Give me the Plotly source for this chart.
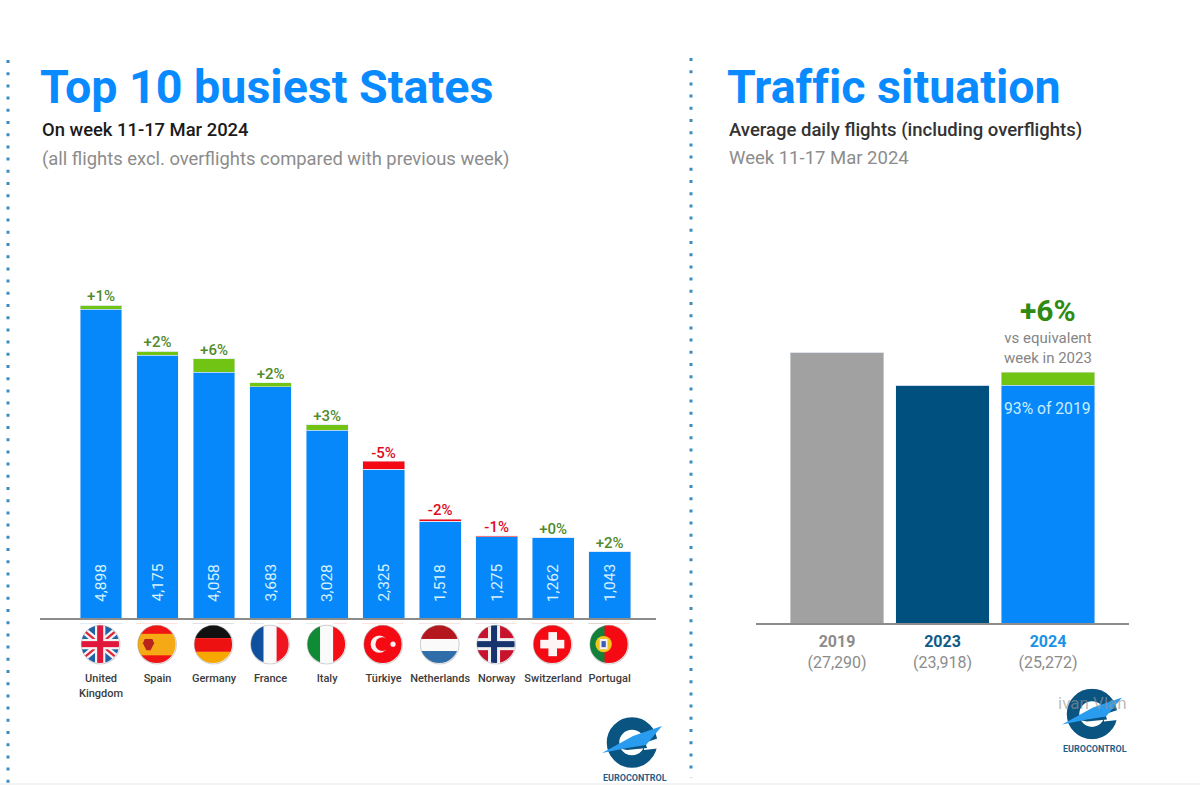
import base64
import plotly.graph_objects as go

W, H = 1200, 785
FONT = "Roboto"
BLUE = "#0688fb"
GREEN = "#72c414"
RED = "#f50a14"
DARK = "#00507f"
GREY = "#a1a1a1"

countries = ["United<br>Kingdom", "Spain", "Germany", "France", "Italy",
             "Türkiye", "Netherlands", "Norway", "Switzerland", "Portugal"]
flights = [4898, 4175, 4058, 3683, 3028, 2325, 1518, 1275, 1262, 1043]
flight_labels = ["4,898", "4,175", "4,058", "3,683", "3,028",
                 "2,325", "1,518", "1,275", "1,262", "1,043"]
pct_labels = ["+1%", "+2%", "+6%", "+2%", "+3%", "-5%", "-2%", "-1%", "+0%", "+2%"]
# flights gained on the previous week (green) and lost since it (red)
gain = [70, 65, 215, 65, 90, 0, 0, 0, 0, 0]
loss = [0, 0, 0, 0, 0, 125, 30, 15, 0, 0]

years = ["2019", "2023", "2024"]
year_counts = ["(27,290)", "(23,918)", "(25,272)"]
daily = [27290, 23918, 25272]
year_colors = ["#8c8c8c", "#0f5a86", "#1a93e6"]


def svg_uri(body, w=100, h=100):
    svg = (f'<svg xmlns="http://www.w3.org/2000/svg" viewBox="0 0 {w} {h}" '
           f'width="{w}" height="{h}">{body}</svg>')
    return "data:image/svg+xml;base64," + base64.b64encode(svg.encode()).decode()


def rect(x, y, w, h, c):
    return f'<rect x="{x}" y="{y}" width="{w}" height="{h}" fill="{c}"/>'


def round_flag(content):
    # white ring trims the square flag to a disc; a faint outline gives the soft shadow
    return svg_uri(
        content
        + '<circle cx="48" cy="48" r="70" fill="none" stroke="#fff" stroke-width="52"/>'
        + '<circle cx="49" cy="49" r="45" fill="none" stroke="#8f8f8f" '
          'stroke-width="2.5" opacity="0.4"/>'
        + rect(0, 96, 100, 4, "#fff"))


flag_uk = (rect(0, 0, 100, 96, "#1f62a8")
           + '<path d="M0 8 L96 88 M96 8 L0 88" stroke="#f3f3f3" stroke-width="16"/>'
           + '<path d="M0 8 L96 88 M96 8 L0 88" stroke="#e0243c" stroke-width="5"/>'
           + rect(36, 0, 24, 96, "#f3f3f3") + rect(0, 36, 96, 24, "#f3f3f3")
           + rect(41, 0, 14, 96, "#e0163a") + rect(0, 41, 96, 14, "#e0163a"))
flag_es = (rect(0, 0, 96, 96, "#f01414") + rect(0, 24, 96, 50, "#f5a915")
           + '<path d="M20 36 H38 L42 46 L34 62 H24 L16 46 Z" fill="#b8231c"/>')
flag_de = (rect(0, 0, 96, 34, "#111") + rect(0, 34, 96, 32, "#ee1111")
           + rect(0, 66, 96, 30, "#f7a800"))
flag_fr = (rect(0, 0, 34, 96, "#0e4f9e") + rect(34, 0, 30, 96, "#fafafa")
           + rect(64, 0, 32, 96, "#f01420"))
flag_it = (rect(0, 0, 34, 96, "#0f8a35") + rect(34, 0, 30, 96, "#fafafa")
           + rect(64, 0, 32, 96, "#f50f14"))
flag_tr = (rect(0, 0, 96, 96, "#f50a14")
           + '<circle cx="40" cy="48" r="20" fill="#fdf2f2"/>'
           + '<circle cx="47" cy="48" r="16" fill="#f50a14"/>'
           + '<circle cx="72" cy="48" r="6" fill="#fdf2f2"/>')
flag_nl = (rect(0, 0, 96, 36, "#b5171e") + rect(0, 36, 96, 28, "#fafafa")
           + rect(0, 64, 96, 32, "#2f6ea8"))
flag_no = (rect(0, 0, 96, 96, "#c8122e") + rect(30, 0, 28, 96, "#f2f2f2")
           + rect(0, 34, 96, 28, "#f2f2f2") + rect(37, 0, 14, 96, "#17346e")
           + rect(0, 41, 96, 14, "#17346e"))
flag_ch = (rect(0, 0, 96, 96, "#f50a14") + rect(39, 20, 20, 56, "#fdf5f5")
           + rect(20, 38, 56, 20, "#fdf5f5"))
flag_pt = (rect(0, 0, 96, 96, "#f50a14") + rect(0, 0, 38, 96, "#12803a")
           + '<circle cx="36" cy="48" r="19" fill="#f2c51e"/>'
           + rect(27, 36, 18, 24, "#f4f0f0") + rect(31, 41, 10, 14, "#3b5fb0"))
flags = [round_flag(f) for f in (flag_uk, flag_es, flag_de, flag_fr, flag_it,
                                 flag_tr, flag_nl, flag_no, flag_ch, flag_pt)]

logo = svg_uri(
    '<circle cx="60" cy="51" r="38" fill="none" stroke="#0a5482" stroke-width="25"/>'
    '<path d="M84 52 L120 40 L120 62 L84 66 Z" fill="#fff"/>'
    '<path d="M30 62 L84 42 L90 62 L50 66 Z" fill="#0a5482"/>'
    '<path d="M46 72 L80 66 A26 26 0 0 1 46 72 Z" fill="#fff"/>'
    '<path d="M0 72 L62 38 L120 18 L88 56 L50 62 Z" fill="#2a9cef"/>',
    120, 102)

fig = go.Figure()

# Left chart: the stack top is the week's figure or, for a fall, the previous week's
base = [v - g for v, g in zip(flights, gain)]
fig.add_bar(x=list(range(10)), y=base, marker_color=BLUE, width=0.74, xaxis="x", yaxis="y",
            hoverinfo="skip")
fig.add_bar(x=list(range(10)), y=gain, marker_color=GREEN, width=0.74, xaxis="x", yaxis="y",
            hoverinfo="skip")
fig.add_bar(x=list(range(10)), y=loss, marker_color=RED, width=0.74, xaxis="x", yaxis="y",
            hoverinfo="skip")
tops = [b + g + l for b, g, l in zip(base, gain, loss)]
fig.add_scatter(x=list(range(10)), y=tops, mode="text", text=pct_labels,
                textposition="top center", xaxis="x", yaxis="y", hoverinfo="skip",
                textfont=dict(family=FONT, size=15, weight=500,
                              color=["#dc0a1e" if p.startswith("-") else "#4f8a2c"
                                     for p in pct_labels]))

# Right chart
fig.add_bar(x=years, y=[daily[0], daily[1], daily[1]],
            marker_color=[GREY, DARK, BLUE], width=0.89, xaxis="x2", yaxis="y2",
            hoverinfo="skip")
fig.add_bar(x=years, y=[0, 0, daily[2] - daily[1]], marker_color=GREEN, width=0.89,
            xaxis="x2", yaxis="y2", hoverinfo="skip")


def paper_text(x, y, text, size, color, weight=400, anchor="left"):
    fig.add_annotation(xref="paper", yref="paper", x=x / W, y=1 - y / H, text=text,
                       showarrow=False, xanchor=anchor, yanchor="middle",
                       font=dict(family=FONT, size=size, color=color, weight=weight))


paper_text(38, 87, "Top 10 busiest States", 46.6, "#0a8aff", 700)
paper_text(40, 130, "On week 11-17 Mar 2024", 18.4, "#1a1a1a", 500)
paper_text(40, 159, "(all flights excl. overflights compared with previous week)", 18.4, "#8c8c8c")
paper_text(725, 87, "Traf\u200cf\u200cic situation", 46.6, "#0a8aff", 700)
paper_text(727, 130, "Average daily flights (including overflights)", 18.5, "#333333", 500)
paper_text(727, 158, "Week 11-17 Mar 2024", 18.5, "#8c8c8c")

for i, label in enumerate(flight_labels):
    fig.add_annotation(x=i, y=0, xref="x", yref="y", yshift=35, text=label, textangle=-90,
                       showarrow=False, font=dict(family=FONT, size=15.5, color="#d6f2ff"))

fig.add_annotation(x=2, y=daily[2], xref="x2", yref="y2", yshift=62, text="<b>+6%</b>",
                   showarrow=False, font=dict(family=FONT, size=30, color="#2f8a12"))
fig.add_annotation(x=2, y=daily[2], xref="x2", yref="y2", yshift=24,
                   text="vs equivalent<br>week in 2023", showarrow=False,
                   font=dict(family=FONT, size=15, color="#858585"))
fig.add_annotation(x=2, y=daily[1], xref="x2", yref="y2", yshift=-23, text="93% of 2019",
                   showarrow=False, font=dict(family=FONT, size=15.7, color="#c8eeff"))

paper_text(635, 778, "EUROCONTROL", 9, "#1f5f8a", 700, "center")
paper_text(1095, 749, "EUROCONTROL", 9, "#1f5f8a", 700, "center")

images = [dict(source=flags[i], xref="x", yref="paper", x=i, y=1 - 645 / H, sizex=0.82,
               sizey=43 / H, xanchor="center", yanchor="middle", layer="above",
               sizing="contain") for i in range(10)]
for cx, cy in [(632, 742.5), (1092, 714)]:
    images.append(dict(source=logo, xref="paper", yref="paper", x=cx / W, y=1 - cy / H,
                       sizex=60 / W, sizey=51 / H, xanchor="center", yanchor="middle",
                       layer="above", sizing="stretch"))

paper_text(1092, 703, "ivan Vlan", 17, "rgba(150,150,150,0.65)", 400, "center")

sep = dict(type="line", xref="paper", yref="paper",
           line=dict(color="#3d8cc0", width=3, dash="3px,9.2px"))
shapes = [dict(sep, x0=8 / W, x1=8 / W, y0=1 - 60 / H, y1=0),
          dict(sep, x0=691 / W, x1=691 / W, y0=1 - 58 / H, y1=1 - 778 / H),
          dict(type="rect", xref="paper", yref="paper", x0=0, x1=1, y0=0, y1=2 / H,
               fillcolor="#f3f3f3", line=dict(width=0))]

fig.update_layout(
    width=W, height=H, margin=dict(l=0, r=0, t=0, b=0), paper_bgcolor="#ffffff",
    plot_bgcolor="#ffffff", barmode="stack", showlegend=False, images=images, shapes=shapes,
    font=dict(family=FONT),
    xaxis=dict(domain=[40 / W, 656 / W], range=[-1.08, 9.82], showgrid=False, zeroline=False,
               tickmode="array", tickvals=list(range(10)), ticktext=countries, ticks="",
               ticklabelstandoff=49, tickangle=0, showline=True, linecolor="#8c8c8c", linewidth=2,
               tickfont=dict(family=FONT, size=11, color="#3c3c3c", weight=500), anchor="y"),
    yaxis=dict(domain=[1 - 618 / H, 1 - 250 / H], range=[0, 368 / 0.0639], visible=False,
               anchor="x"),
    xaxis2=dict(domain=[756 / W, 1129 / W], range=[-0.768, 2.768], showgrid=False, zeroline=False,
                type="category", categoryorder="array", categoryarray=years,
                tickmode="array", tickvals=years,
                ticktext=[f'<span style="color:{c}"><b>{y}</b></span><br>{n}'
                          for c, y, n in zip(year_colors, years, year_counts)],
                ticks="", ticklabelstandoff=3, showline=True, linecolor="#8c8c8c", linewidth=2,
                tickfont=dict(family=FONT, size=16, color="#8c8c8c"), anchor="y2"),
    yaxis2=dict(domain=[1 - 623 / H, 1 - 250 / H], range=[0, 373 / 0.00993], visible=False,
                anchor="x2"),
)

fig.write_html("out.html", config={"displayModeBar": False},
               post_script="document.body.style.margin='0';document.documentElement.style.overflow='hidden';")
